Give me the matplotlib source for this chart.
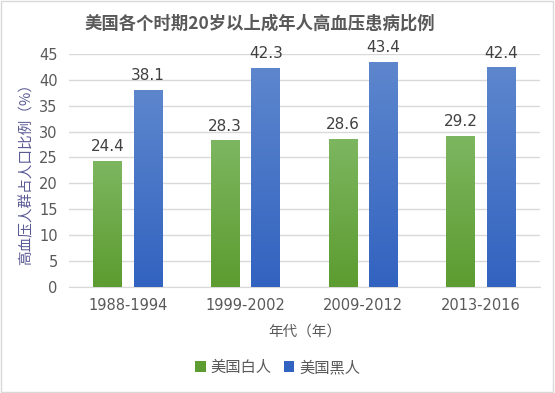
import matplotlib
matplotlib.use("Agg")
import matplotlib.pyplot as plt
import numpy as np
from matplotlib.patches import Rectangle

plt.rcParams['font.family'] = ['Noto Sans CJK SC', 'DejaVu Sans']

periods = ["1988-1994", "1999-2002", "2009-2012", "2013-2016"]
white = [24.4, 28.3, 28.6, 29.2]
black = [38.1, 42.3, 43.4, 42.4]
series_names = ["美国白人", "美国黑人"]

fig = plt.figure(figsize=(5.55, 3.93), dpi=100)
fig.patches.append(Rectangle((0.002, 0.003), 0.995, 0.994, transform=fig.transFigure,
                             fill=False, edgecolor="#d9d9d9", linewidth=1))
ax = fig.add_axes([0.124, 0.270, 0.849, 0.593])

x = np.arange(len(periods))
w = 0.245
off = 0.172


def grad_bars(xs, vals, top, bottom):
    cmap = matplotlib.colors.LinearSegmentedColormap.from_list("g", [bottom, top])
    grad = np.linspace(0, 1, 100).reshape(-1, 1)
    bars = ax.bar(xs, vals, w, color=bottom, zorder=2)
    for b in bars:
        x0, y0 = b.get_x(), b.get_y()
        im = ax.imshow(grad, cmap=cmap, extent=[x0, x0 + b.get_width(), y0, y0 + b.get_height()],
                       origin="lower", aspect="auto", zorder=3)
        im.set_clip_path(b)
    return bars


b1 = grad_bars(x - off, white, "#7db660", "#5c9c30")
b2 = grad_bars(x + off, black, "#5d86cd", "#3263c0")

for xs, vals in [(x - off, white), (x + off, black)]:
    for xi, v in zip(xs, vals):
        ax.text(xi, v + 1.3, f"{v}", ha="center", va="bottom", fontsize=11, color="#404040",
                family="DejaVu Sans")

ax.set_xlim(-0.5, 3.5)
ax.set_ylim(0, 45)
ax.set_yticks(range(0, 46, 5))
ax.set_xticks(x)
ax.set_xticklabels(periods)
ax.yaxis.grid(True, color="#d9d9d9", linewidth=1, zorder=0)
ax.set_axisbelow(True)
for s in ["top", "right", "left"]:
    ax.spines[s].set_visible(False)
ax.spines["bottom"].set_color("#d9d9d9")
ax.tick_params(length=0, labelsize=10.5, colors="#595959", pad=8)
for lab in ax.get_xticklabels() + ax.get_yticklabels():
    lab.set_family("DejaVu Sans")

ax.set_xlabel("年代（年）", fontsize=10.5, color="#595959", labelpad=8)
ax.set_ylabel("高血压人群占人口比例（%）", fontsize=10.5, color="#5a5a96", labelpad=4)

fig.text(0.468, 0.94, "美国各个时期20岁以上成年人高血压患病比例", ha="center", va="center",
         fontsize=12.5, fontweight="bold", color="#595959")

leg = fig.legend([b1, b2], series_names, loc="center", bbox_to_anchor=(0.5, 0.065), ncol=2,
                 frameon=False, fontsize=11, handlelength=0.7, handleheight=0.7,
                 handletextpad=0.3, columnspacing=0.8)
for t in leg.get_texts():
    t.set_color("#595959")

fig.savefig("out.png", dpi=100)
